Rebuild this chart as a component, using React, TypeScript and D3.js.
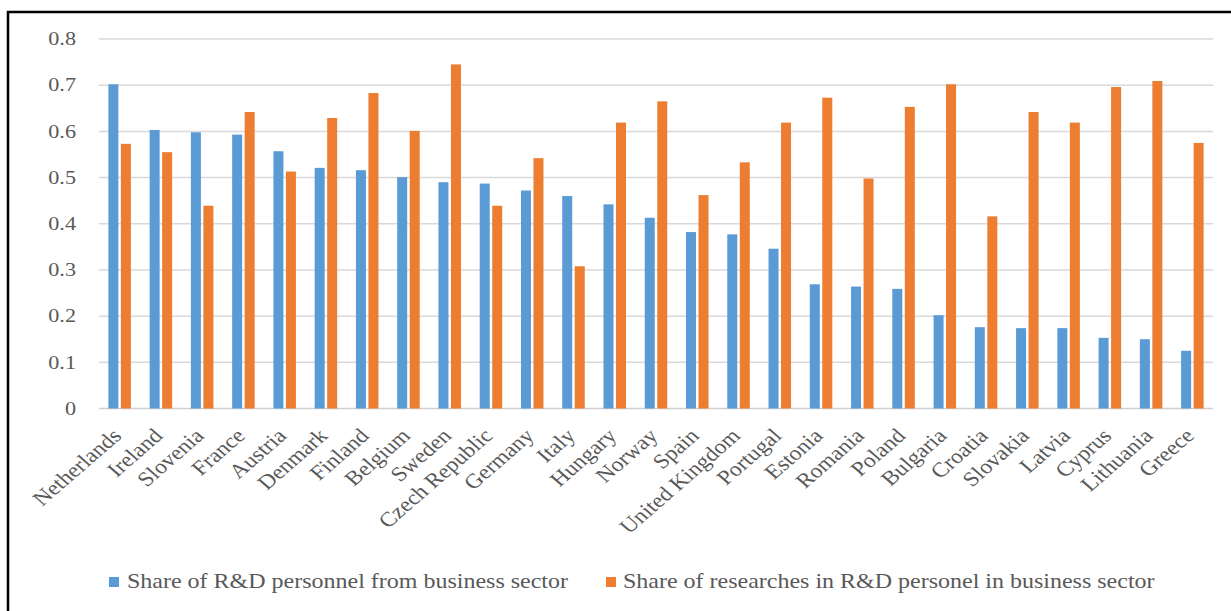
import React from "react";
import * as d3 from "d3";

const countries = [
  "Netherlands", "Ireland", "Slovenia", "France", "Austria", "Denmark", "Finland",
  "Belgium", "Sweden", "Czech Republic", "Germany", "Italy", "Hungary", "Norway",
  "Spain", "United Kingdom", "Portugal", "Estonia", "Romania", "Poland", "Bulgaria",
  "Croatia", "Slovakia", "Latvia", "Cyprus", "Lithuania", "Greece",
];

const personnelShare = [
  0.702, 0.603, 0.598, 0.593, 0.557, 0.521, 0.516, 0.501, 0.490, 0.487, 0.472, 0.460,
  0.442, 0.413, 0.382, 0.377, 0.346, 0.269, 0.264, 0.259, 0.202, 0.176, 0.174, 0.174,
  0.153, 0.150, 0.125,
];

const researcherShare = [
  0.573, 0.555, 0.439, 0.642, 0.513, 0.629, 0.683, 0.601, 0.745, 0.439, 0.542, 0.308,
  0.619, 0.665, 0.462, 0.533, 0.619, 0.673, 0.498, 0.653, 0.702, 0.416, 0.642, 0.619,
  0.696, 0.709, 0.575,
];

const yTicks = [0, 0.1, 0.2, 0.3, 0.4, 0.5, 0.6, 0.7, 0.8];

const seriesNames = [
  "Share of R&D personnel from business sector",
  "Share of researches in R&D personel in business sector",
];

const BLUE = "#5b9bd5";
const ORANGE = "#ed7d31";
const FONT = "'Liberation Serif', 'Times New Roman', serif";
const TEXT = "#595959";
// the chart's type is set slightly wide
const WIDE = 1.2;

export default function App() {
  const width = 1231;
  const height = 611;
  const left = 99;
  const right = 1213;
  const top = 39;
  const bottom = 408.5;

  const x = d3.scaleBand<string>().domain(countries).range([left, right]).padding(0);
  const y = d3.scaleLinear().domain([0, 0.8]).range([bottom, top]);
  const barW = 10;
  const gap = 2.5;

  const legend = [
    { name: seriesNames[0], color: BLUE, sx: 109, tx: 127 },
    { name: seriesNames[1], color: ORANGE, sx: 606, tx: 623 },
  ];

  return (
    <svg
      width={width}
      height={height}
      style={{ position: "absolute", left: 0, top: 0, background: "#fff" }}
      fontFamily={FONT}
    >
      <rect x={0} y={0} width={width} height={height} fill="#fff" />
      {/* outer frame */}
      <rect x={8} y={12} width={1240} height={640} fill="none" stroke="#000" strokeWidth={2.5} />

      {/* gridlines */}
      {yTicks.map((t) => (
        <line
          key={t}
          x1={left}
          x2={right}
          y1={y(t)}
          y2={y(t)}
          stroke={t === 0 ? "#d0d0d0" : "#d9d9d9"}
          strokeWidth={1.5}
        />
      ))}

      {/* y tick labels */}
      {yTicks.map((t) => (
        <text
          key={"l" + t}
          transform={`translate(76 ${y(t)}) scale(${WIDE} 1)`}
          dy="0.34em"
          textAnchor="end"
          fontSize={18.5}
          fill={TEXT}
        >
          {t === 0 ? "0" : t.toFixed(1)}
        </text>
      ))}

      {/* bars */}
      {countries.map((c, i) => {
        const cx = (x(c) as number) + x.bandwidth() / 2;
        return (
          <g key={c}>
            <rect
              x={cx - gap / 2 - barW}
              y={y(personnelShare[i])}
              width={barW}
              height={bottom - y(personnelShare[i])}
              fill={BLUE}
            />
            <rect
              x={cx + gap / 2}
              y={y(researcherShare[i])}
              width={barW}
              height={bottom - y(researcherShare[i])}
              fill={ORANGE}
            />
          </g>
        );
      })}

      {/* category labels */}
      {countries.map((c) => {
        const ax = (x(c) as number) + x.bandwidth() / 2 + 3;
        const ay = 437;
        return (
          <text
            key={"c" + c}
            transform={`translate(${ax} ${ay}) scale(1.15 1) rotate(-45)`}
            textAnchor="end"
            fontSize={20.5}
            fill={TEXT}
          >
            {c}
          </text>
        );
      })}

      {/* legend */}
      {legend.map((l) => (
        <g key={l.name}>
          <rect x={l.sx} y={577} width={10} height={10} fill={l.color} />
          <text
            transform={`translate(${l.tx} 588) scale(${WIDE} 1)`}
            fontSize={20}
            fill={TEXT}
          >
            {l.name}
          </text>
        </g>
      ))}
    </svg>
  );
}
